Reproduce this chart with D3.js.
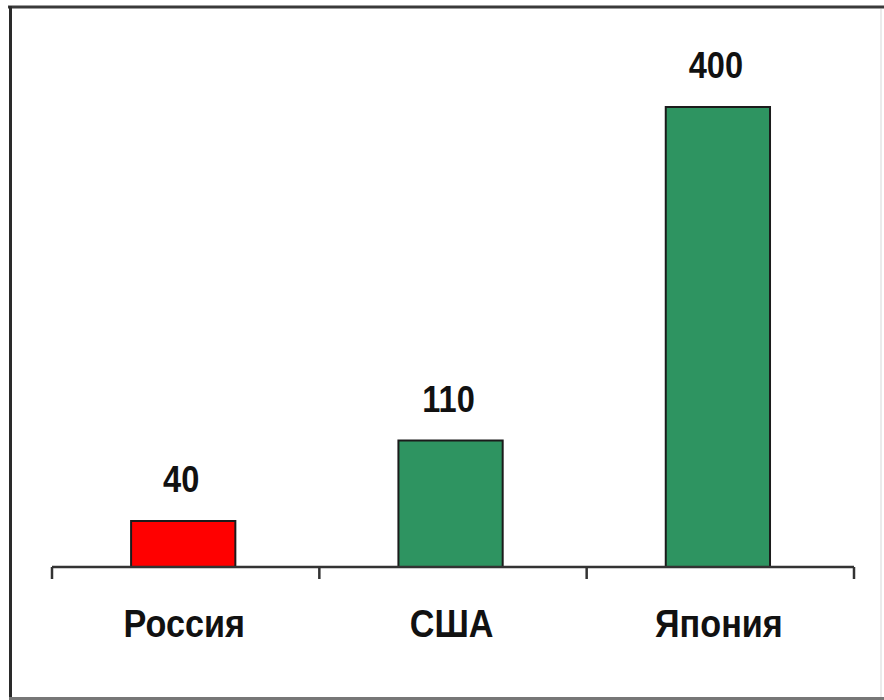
<!DOCTYPE html>
<html>
<head>
<meta charset="utf-8">
<script src="https://cdn.jsdelivr.net/npm/d3@7"></script>
<style>
  html, body { margin: 0; padding: 0; background: #fff; }
  svg { display: block; }
  text { font-family: "Liberation Sans", Arial, sans-serif; font-weight: bold; fill: #111; }
</style>
</head>
<body>
<script>
const categories = ["Россия", "США", "Япония"];
const values = [40, 110, 400];
const colors = ["#ff0000", "#2e9461", "#2e9461"];

const W = 884, H = 700;
const svg = d3.select("body").append("svg").attr("width", W).attr("height", H);

// frame
svg.append("line").attr("x1", 8).attr("x2", W).attr("y1", 7).attr("y2", 7)
  .attr("stroke", "#3a3a3a").attr("stroke-width", 3);
svg.append("line").attr("x1", 10.5).attr("x2", 10.5).attr("y1", 6).attr("y2", 699)
  .attr("stroke", "#2a2a2a").attr("stroke-width", 3);
svg.append("line").attr("x1", 9).attr("x2", W).attr("y1", 698.5).attr("y2", 698.5)
  .attr("stroke", "#777").attr("stroke-width", 3);
svg.append("line").attr("x1", 881).attr("x2", 881).attr("y1", 9).attr("y2", 697)
  .attr("stroke", "#e4e4e4").attr("stroke-width", 1.5);

const x0 = 52, x1 = 854;
const x = d3.scaleBand().domain(categories).range([x0, x1])
  .paddingInner(0.61).paddingOuter(0.305).align(0.485);
const y = d3.scaleLinear().domain([0, 400]).range([567, 107]);

// bars
svg.selectAll("rect.bar").data(values).join("rect")
  .attr("class", "bar")
  .attr("x", (d, i) => x(categories[i]))
  .attr("width", x.bandwidth())
  .attr("y", d => y(d))
  .attr("height", d => y(0) - y(d))
  .attr("fill", (d, i) => colors[i])
  .attr("stroke", "#1b1b1b").attr("stroke-width", 2);

// axis line + boundary ticks
const step = x.step();
const bounds = d3.range(categories.length + 1).map(i => x0 + i * step);
const axisG = svg.append("g");
axisG.append("line").attr("x1", bounds[0]).attr("x2", bounds[bounds.length - 1])
  .attr("y1", y(0)).attr("y2", y(0)).attr("stroke", "#333").attr("stroke-width", 2.5);
axisG.selectAll("line.tick").data(bounds).join("line")
  .attr("class", "tick")
  .attr("x1", d => d).attr("x2", d => d)
  .attr("y1", y(0)).attr("y2", y(0) + 12)
  .attr("stroke", "#333").attr("stroke-width", 2.5);

// category labels via axis
const xAxis = d3.axisBottom(x).tickSize(0).tickPadding(0);
const ag = svg.append("g").attr("transform", `translate(0,${y(0)})`).call(xAxis);
ag.select(".domain").remove();
ag.selectAll(".tick text")
  .attr("y", 0).attr("dy", 0)
  .attr("transform", "translate(1,70) scale(0.9,1)")
  .attr("x", 0)
  .style("font-size", "38px")
  .style("font-family", "'Liberation Sans', Arial, sans-serif")
  .style("font-weight", "bold")
  .attr("fill", "#111");

// value labels
svg.selectAll("g.vl").data(values).join("g")
  .attr("class", "vl")
  .attr("transform", (d, i) => `translate(${x(categories[i]) + x.bandwidth() / 2 - 2},${y(d) - 29}) scale(0.88,1)`)
  .append("text")
  .attr("text-anchor", "middle")
  .style("font-size", "37px")
  .text(d => d);
</script>
</body>
</html>
